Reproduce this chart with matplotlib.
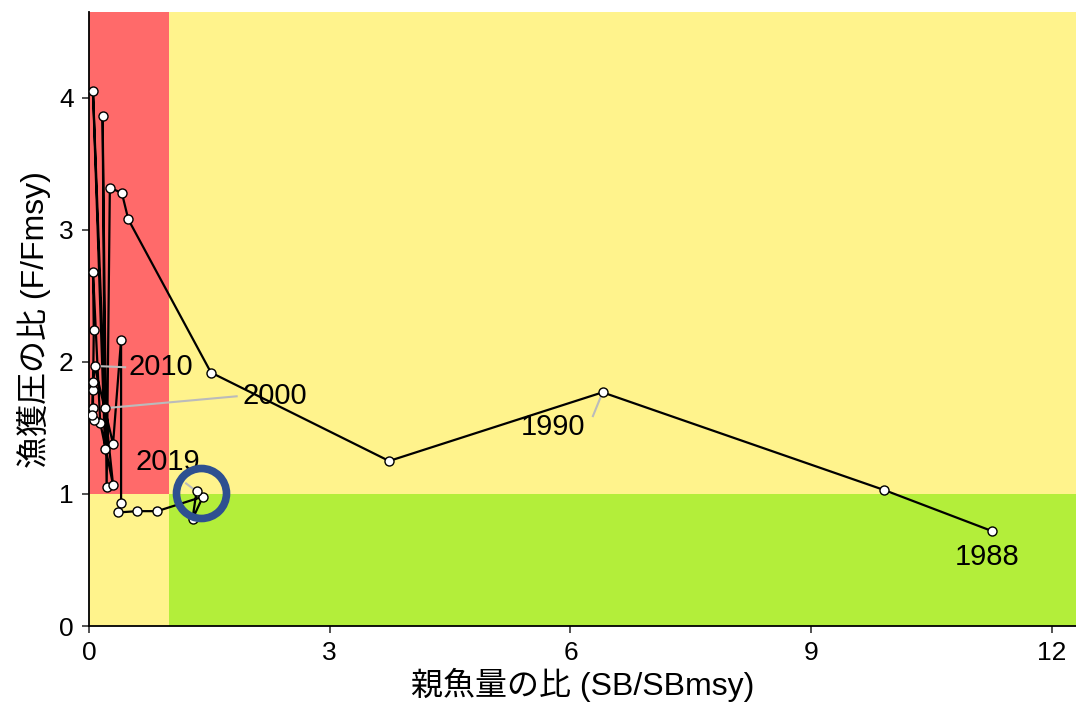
import matplotlib
matplotlib.use('Agg')
import matplotlib.pyplot as plt

plt.rcParams['font.family'] = ['Liberation Sans', 'Noto Sans CJK JP', 'DejaVu Sans']

years = list(range(1988, 2020))
sb_ratio = [11.25, 9.91, 6.40, 3.74, 1.52, 0.49, 0.41, 0.26,
            0.22, 0.17, 0.20, 0.05, 0.20, 0.30, 0.14, 0.05,
            0.06, 0.05, 0.05, 0.06, 0.04, 0.05, 0.07, 0.30,
            0.40, 0.40, 0.36, 0.60, 0.85, 1.42, 1.29, 1.34]
f_ratio = [0.72, 1.03, 1.77, 1.25, 1.92, 3.08, 3.28, 3.32,
           1.05, 3.86, 1.34, 4.05, 1.65, 1.07, 1.54, 2.68,
           2.24, 1.79, 1.65, 1.56, 1.60, 1.85, 1.97, 1.38,
           2.17, 0.93, 0.86, 0.87, 0.87, 0.98, 0.81, 1.02]

# year labels and where their leader lines end
label_years = [1988, 1990, 2000, 2010, 2019]
label_x = [11.19, 5.78, 2.32, 0.90, 0.98]
label_y = [0.52, 1.51, 1.74, 1.96, 1.24]
leader_x = [None, 6.28, 1.84, 0.45, 1.21]
leader_y = [None, 1.59, 1.74, 1.96, 1.08]

xmax, ymax = 12.3, 4.65

fig = plt.figure(figsize=(10.76, 7.13), dpi=100)
ax = fig.add_axes([0.0827, 0.122, 0.9173, 0.861])

# zones
ax.fill_between([0, xmax], 0, ymax, color='#FFF38C', lw=0, zorder=0)
ax.fill_between([0, 1], 1, ymax, color='#FF6A6A', lw=0, zorder=0)
ax.fill_between([1, xmax], 0, 1, color='#B3EE3A', lw=0, zorder=0)

ax.plot(sb_ratio, f_ratio, color='black', lw=1.6, zorder=2)
ax.plot(sb_ratio, f_ratio, 'o', ms=6.5, mfc='white', mec='black', mew=1.0, zorder=4)

for yr, tx, ty, lx, ly in zip(label_years, label_x, label_y, leader_x, leader_y):
    i = years.index(yr)
    if lx is not None:
        ax.plot([sb_ratio[i], lx], [f_ratio[i], ly], color='#BBBBBB', lw=1.5, zorder=3)
    ax.text(tx, ty, str(yr), fontsize=21, ha='center', va='center', zorder=5)

# highlight latest year
last = years.index(2019)
ax.plot(sb_ratio[last] + 0.06, f_ratio[last] - 0.01, 'o', ms=36, mfc='none',
        mec='#2E5090', mew=5.5, zorder=6)

ax.set_xlim(0, xmax)
ax.set_ylim(0, ymax)
ax.set_xticks([0, 3, 6, 9, 12])
ax.set_yticks([0, 1, 2, 3, 4])
ax.tick_params(labelsize=19, length=5, width=1.2, color='#333333', pad=6)
for s in ['top', 'right']:
    ax.spines[s].set_visible(False)
for s in ['left', 'bottom']:
    ax.spines[s].set_linewidth(1.3)
    ax.spines[s].set_color('black')

ax.set_xlabel('親魚量の比 (SB/SBmsy)', fontsize=23, labelpad=2)
ax.set_ylabel('漁獲圧の比 (F/Fmsy)', fontsize=23, labelpad=6)

fig.savefig('out.png', dpi=100)
